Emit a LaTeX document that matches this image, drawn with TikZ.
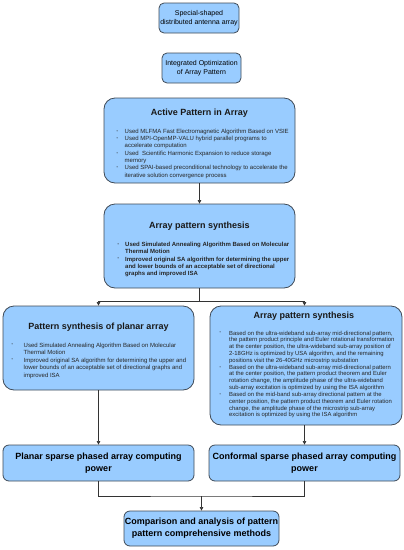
\documentclass[tikz,border=0pt]{standalone}
\usepackage{fontspec}
\setmainfont{Liberation Sans}
\usetikzlibrary{arrows.meta}
\definecolor{boxfill}{HTML}{99CCFF}
\definecolor{boxline}{HTML}{3F4A57}
\definecolor{conn}{HTML}{333333}
\newcommand\bul{\raisebox{0.35ex}{\scalebox{0.6}{\textbullet}}}
\tikzset{
  box/.style={draw=boxline, fill=boxfill, line width=0.8pt, inner sep=0pt},
  bigbox/.style={box, rounded corners=11pt},
  smallbox/.style={box, rounded corners=5pt},
  midbox/.style={box, rounded corners=6pt},
  ttl/.style={font=\fontsize{9}{11}\selectfont\bfseries, inner sep=0pt, text=black!90},
  lbl/.style={font=\fontsize{7}{9}\selectfont, align=center, inner sep=0pt},
  blbl/.style={font=\fontsize{9}{12}\selectfont\bfseries, align=center, inner sep=0pt},
  bullets/.style={anchor=base west, inner sep=0pt, text=black!85},
  conn/.style={draw=conn, line width=0.6pt},
  arr/.style={conn, -{Triangle[width=3.5pt,length=3.5pt]}}
}
\begin{document}
\begin{tikzpicture}[x=1pt,y=-1pt]
\useasboundingbox (0,0) rectangle (404,550);
% boxes
\node[smallbox, minimum width=80pt, minimum height=30pt] (b1) at (199,18) {};
\node[lbl] at (b1) {Special-shaped\\distributed antenna array};
\node[smallbox, minimum width=79pt, minimum height=30pt] (b2) at (201.5,68) {};
\node[lbl] at (b2) {Integrated Optimization\\of Array Pattern};
\node[bigbox, minimum width=191pt, minimum height=85pt] (b3) at (199.5,140.5) {};
\node[bigbox, minimum width=191pt, minimum height=84pt] (b4) at (199.5,246) {};
\node[bigbox, minimum width=191pt, minimum height=84pt] (b5) at (98.5,348) {};
\node[bigbox, minimum width=192pt, minimum height=119pt] (b6) at (306,365.5) {};
\node[midbox, minimum width=191pt, minimum height=36pt] (b7) at (98.5,463) {};
\node[midbox, minimum width=191pt, minimum height=36pt] (b8) at (304.5,463) {};
\node[midbox, minimum width=155pt, minimum height=35pt] (b9) at (201.5,528.5) {};
% titles
\node[ttl] (t3) at (199.5,113) {Active Pattern in Array};
\node[ttl] (t4) at (199.5,226) {Array pattern synthesis};
\node[ttl] (t5) at (98.5,327) {Pattern synthesis of planar array};
\node[ttl] (t6) at (304,316) {Array pattern synthesis};
\node[blbl] at (b7) {Planar sparse phased array computing\\power};
\node[blbl] at (b8) {Conformal sparse phased array computing\\power};
\node[blbl] at (b9) {Comparison and analysis of pattern\\pattern comprehensive methods};
% bullet lists
\node[bullets] (l3) at (116.5,133.2) {\fontsize{6}{7.33}\selectfont
\begin{tabular}[t]{@{}p{8pt}@{}l@{}}
\bul & Used MLFMA Fast Electromagnetic Algorithm Based on VSIE\\
\bul & Used MPI-OpenMP-VALU hybrid parallel programs to\\
 & accelerate computation\\
\bul & Used\ \ Scientific Harmonic Expansion to reduce storage\\
 & memory\\
\bul & Used SPAI-based preconditional technology to accelerate the\\
 & iterative solution convergence process
\end{tabular}};
\node[bullets] (l4) at (117.5,246.5) {\fontsize{6}{7.25}\selectfont\bfseries
\begin{tabular}[t]{@{}p{7.5pt}@{}l@{}}
\bul & Used Simulated Annealing Algorithm Based on Molecular\\
 & Thermal Motion\\
\bul & Improved original SA algorithm for determining the upper\\
 & and lower bounds of an acceptable set of directional\\
 & graphs and improved ISA
\end{tabular}};
\node[bullets] (l5) at (11.5,347) {\fontsize{6}{7.5}\selectfont
\begin{tabular}[t]{@{}p{12pt}@{}l@{}}
\bul & Used Simulated Annealing Algorithm Based on Molecular\\
 & Thermal Motion\\
\bul & Improved original SA algorithm for determining the upper and\\
 & lower bounds of an acceptable set of directional graphs and\\
 & improved ISA
\end{tabular}};
\node[bullets] (l6) at (219.5,335) {\fontsize{5.9}{6.83}\selectfont
\begin{tabular}[t]{@{}p{9.5pt}@{}l@{}}
\bul & Based on the ultra-wideband sub-array mid-directional pattern,\\
 & the pattern product principle and Euler rotational transformation\\
 & at the center position, the ultra-wideband sub-array position of\\
 & 2-18GHz is optimized by USA algorithm, and the remaining\\
 & positions visit the 26-40GHz microstrip substation\\
\bul & Based on the ultra-wideband sub-array mid-directional pattern\\
 & at the center position, the pattern product theorem and Euler\\
 & rotation change, the amplitude phase of the ultra-wideband\\
 & sub-array excitation is optimized by using the ISA algorithm\\
\bul & Based on the mid-band sub-array directional pattern at the\\
 & center position, the pattern product theorem and Euler rotation\\
 & change, the amplitude phase of the microstrip sub-array\\
 & excitation is optimized by using the ISA algorithm
\end{tabular}};
% connectors
\draw[arr] (b3) -- (b4);
\coordinate (s1) at (199.5,301);
\draw[conn] (b4.south) -- (s1);
\draw[arr] (s1) -| (b5.north);
\draw[arr] (s1) -| (b6.north -| b8.north);
\draw[arr] (b5) -- (b7);
\draw[arr] (b6.south -| b8.north) -- (b8.north);
\coordinate (s2) at (201.5,496);
\draw[conn] (b7.south) |- (s2) -| (b8.south);
\draw[arr] (s2) -- (b9.north);
\end{tikzpicture}
\end{document}
